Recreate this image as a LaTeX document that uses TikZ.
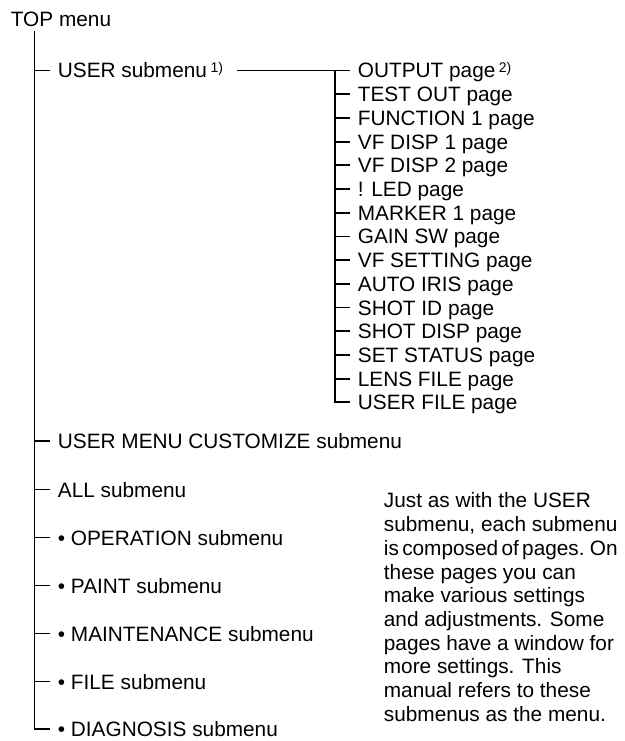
\documentclass[tikz,border=0pt]{standalone}
\usepackage{fontspec}
\setmainfont{Liberation Sans}
\newcommand\fnmark[1]{\,\raisebox{5pt}{\fontsize{14}{14}\selectfont #1)}}
\begin{document}
\begin{tikzpicture}[x=1pt,y=-1pt,line width=1.8pt,
    font=\fontsize{20.8}{23.7}\selectfont,
    item/.style={anchor=west,inner xsep=7pt,inner ysep=0pt,
      text height=15pt,text depth=0pt}]
    \useasboundingbox (0,0) rectangle (624,741);

    \node[item,inner xsep=0pt] (top) at (10,19) {TOP menu};
    \coordinate (trunk) at (34.5,31);

    \node[item] (user) at (50,70.5) {USER submenu\fnmark{1}};
    \node[item] (umc) at (50,441) {USER MENU CUSTOMIZE submenu};
    \node[item] (all) at (50,489.5) {ALL submenu};
    \node[item] (op) at (50,537.5) {\textbullet\ OPERATION submenu};
    \node[item] (paint) at (50,585.5) {\textbullet\ PAINT submenu};
    \node[item] (maint) at (50,633.5) {\textbullet\ MAINTENANCE submenu};
    \node[item] (file) at (50,681.5) {\textbullet\ FILE submenu};
    \node[item] (diag) at (50,729) {\textbullet\ DIAGNOSIS submenu};

    \draw (trunk) |- (diag.west);
    \foreach \n in {user,umc,all,op,paint,maint,file}
      \draw (\n.west) -- (\n.west -| trunk);

    % pages of the USER submenu
    \foreach \t [count=\i] in {{OUTPUT page\fnmark{2}},TEST OUT page,
        FUNCTION 1 page,VF DISP 1 page,VF DISP 2 page,! LED page,
        MARKER 1 page,GAIN SW page,VF SETTING page,AUTO IRIS page,
        SHOT ID page,SHOT DISP page,SET STATUS page,LENS FILE page,
        USER FILE page}
      \node[item] (p\i) at (350,{70.5+23.7*(\i-1)}) {\t};

    \coordinate (ptrunk) at (335,70.5);
    \draw[shorten <=6pt] (user.east) -- (p1.west);
    \draw (ptrunk) |- (p15.west);
    \foreach \i in {2,...,14}
      \draw (p\i.west) -- (p\i.west -| ptrunk);

    \node[anchor=north west,inner sep=0pt,align=left] (note) at (383,492)
      {Just as with the USER\\
       submenu, each submenu\\
       {\spaceskip=.16em\relax is composed of pages. On}\\
       these pages you can\\
       make various settings\\
       and adjustments. Some\\
       pages have a window for\\
       more settings. This\\
       manual refers to these\\
       submenus as the menu.};

  \end{tikzpicture}
\end{document}
